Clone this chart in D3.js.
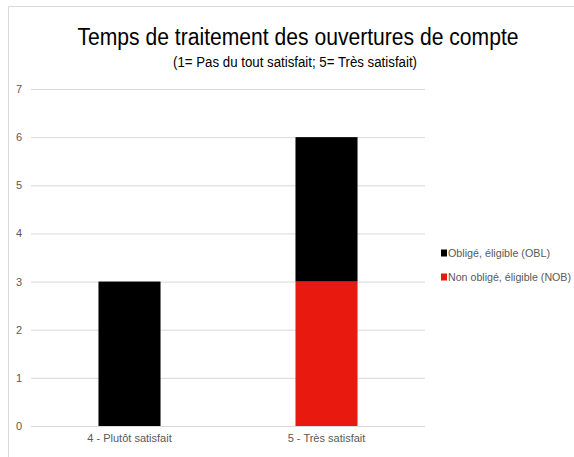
<!DOCTYPE html>
<html>
<head>
<meta charset="utf-8">
<script src="https://cdn.jsdelivr.net/npm/d3@7"></script>
<style>
  body { margin: 0; background: #fff; }
  text { font-family: "Liberation Sans", Arial, sans-serif; }
</style>
</head>
<body>
<div id="chart"></div>
<script>
// chart data
var categories = ["4 - Plutôt satisfait", "5 - Très satisfait"];
var seriesNames = ["Non obligé, éligible (NOB)", "Obligé, éligible (OBL)"];
var seriesColors = ["#e8190f", "#000000"];
var nobValues = [0, 3];
var oblValues = [3, 3];
var yTicks = [0, 1, 2, 3, 4, 5, 6, 7];

var W = 574, H = 457;
var margin = {top: 89, left: 31, right: 149, bottom: 31};
var width = W - margin.left - margin.right;
var height = H - margin.top - margin.bottom;

var svg = d3.select("#chart").append("svg")
    .attr("width", W)
    .attr("height", H);

// frame of the chart area
svg.append("path")
    .attr("d", "M8.5," + H + "V6.5H" + W)
    .attr("fill", "none")
    .attr("stroke", "#d9d9d9")
    .attr("stroke-width", 1);

// titles, squeezed to the reference widths
function fitText(sel, w) {
    var len = sel.node().getComputedTextLength();
    if (len > w) {
        sel.attr("textLength", w).attr("lengthAdjust", "spacingAndGlyphs");
    }
    return sel;
}

fitText(svg.append("text")
    .attr("x", 298).attr("y", 45)
    .attr("text-anchor", "middle")
    .attr("font-size", 23)
    .attr("fill", "#000")
    .text("Temps de traitement des ouvertures de compte"), 441);

fitText(svg.append("text")
    .attr("x", 295).attr("y", 67)
    .attr("text-anchor", "middle")
    .attr("font-size", 14)
    .attr("fill", "#000")
    .text("(1= Pas du tout satisfait; 5= Très satisfait)"), 244);

var g = svg.append("g")
    .attr("transform", "translate(" + margin.left + "," + margin.top + ")");

var x = d3.scaleBand()
    .domain(categories)
    .range([0, width])
    .paddingInner(0.685)
    .paddingOuter(0.3425);

var y = d3.scaleLinear()
    .domain([0, 7])
    .range([height, 0]);

// gridlines
g.append("g")
    .attr("class", "grid")
    .call(d3.axisLeft(y).tickValues(yTicks).tickSize(-width).tickFormat(""))
    .call(function(s) {
        s.select(".domain").remove();
        s.selectAll("line").attr("stroke", "#d9d9d9");
    });

// y labels
g.append("g")
    .call(d3.axisLeft(y).tickValues(yTicks).tickFormat(d3.format("d")).tickSize(0).tickPadding(9))
    .call(function(s) {
        s.select(".domain").remove();
        s.selectAll("text").attr("fill", "#595959").attr("font-size", 11);
    });

// stacked bars
var rows = categories.map(function(c, i) {
    return {cat: c, nob: nobValues[i], obl: oblValues[i]};
});
var stack = d3.stack().keys(["nob", "obl"])(rows);

g.selectAll(".series")
    .data(stack)
    .enter().append("g")
    .attr("class", "series")
    .attr("fill", function(d, i) { return seriesColors[i]; })
    .selectAll("rect")
    .data(function(d) { return d.filter(function(p) { return p[1] - p[0] > 0; }); })
    .enter().append("rect")
    .attr("x", function(d) { return x(d.data.cat); })
    .attr("y", function(d) { return y(d[1]); })
    .attr("width", x.bandwidth())
    .attr("height", function(d) { return y(d[0]) - y(d[1]); });

// x axis labels
g.append("g")
    .attr("transform", "translate(0," + height + ")")
    .call(d3.axisBottom(x).tickSize(0).tickPadding(8))
    .call(function(s) {
        s.select(".domain").remove();
        s.selectAll("text").attr("fill", "#595959").attr("font-size", 11);
    });

// legend (OBL first, NOB second)
var legendItems = [[seriesNames[1], seriesColors[1], 102], [seriesNames[0], seriesColors[0], 123]];
var legend = svg.selectAll(".legend")
    .data(legendItems)
    .enter().append("g")
    .attr("class", "legend")
    .attr("transform", function(d, i) { return "translate(441," + (253 + i * 24) + ")"; });

legend.append("rect")
    .attr("x", 0).attr("y", -3.5)
    .attr("width", 6).attr("height", 7)
    .attr("fill", function(d) { return d[1]; });

legend.append("text")
    .attr("x", 7).attr("y", 0)
    .attr("dy", "0.35em")
    .attr("font-size", 11)
    .attr("fill", "#595959")
    .text(function(d) { return d[0]; })
    .each(function(d) { fitText(d3.select(this), d[2]); });
</script>
</body>
</html>
